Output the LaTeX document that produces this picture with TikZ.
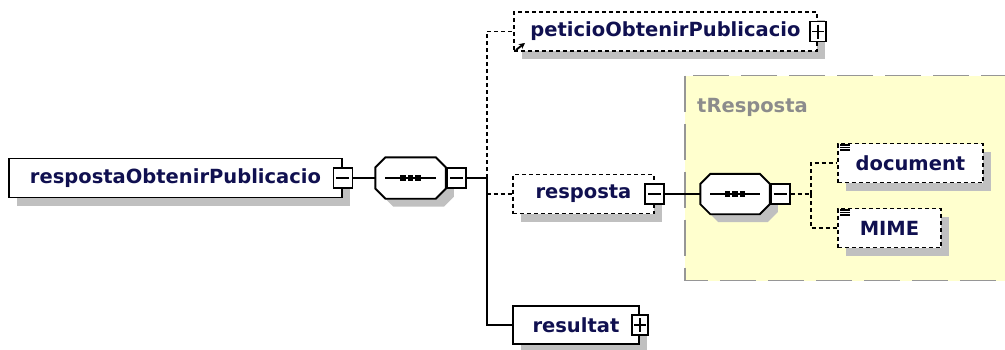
\documentclass[tikz,border=0pt]{standalone}
\usepackage{fontspec}
\setmainfont{DejaVu Sans}
\usetikzlibrary{shadows,arrows.meta}
\usetikzlibrary{positioning}
\definecolor{elemtext}{RGB}{16,16,80}
\definecolor{typefill}{RGB}{255,255,206}
\definecolor{typeline}{RGB}{150,150,150}
\definecolor{typetext}{RGB}{140,140,140}
\definecolor{shadowgray}{RGB}{192,192,192}
\tikzset{
    elem/.style={
           rectangle,
           draw=black, line width=1.9pt,
           fill=white,
           minimum height=39pt,
           inner sep=0pt,
           font=\bfseries\fontsize{19.5}{22}\selectfont,
           text=elemtext,
           drop shadow={shadow xshift=8pt,shadow yshift=-8pt,fill=shadowgray,opacity=1},
           },
}
\tikzset{
    optelem/.style={
           elem,
           dash pattern=on 4pt off 3pt,
           },
}
\tikzset{
    minusbox/.style={
           rectangle,
           draw=black, line width=1.9pt,
           fill=white,
           minimum width=19pt, minimum height=20pt,
           inner sep=0pt,
           path picture={\draw[line width=1.9pt] ([xshift=3pt]path picture bounding box.west) -- ([xshift=-3pt]path picture bounding box.east);},
           },
}
\tikzset{
    plusbox/.style={
           minusbox,
           minimum width=16pt,
           path picture={\draw[line width=1.9pt] ([xshift=2pt]path picture bounding box.west) -- ([xshift=-2pt]path picture bounding box.east);
                         \draw[line width=1.9pt] ([yshift=-3pt]path picture bounding box.north) -- ([yshift=3pt]path picture bounding box.south);},
           },
}
\tikzset{
    seq/.style={
           rectangle,
           inner sep=0pt,
           minimum width=70pt, minimum height=41pt,
           },
    seqshadow/.style={fill=shadowgray},
    seqline/.style={fill=white, draw=black, line width=1.9pt},
}
\tikzset{
    conn/.style={draw=black, line width=1.9pt},
    optconn/.style={conn, dash pattern=on 4pt off 3pt},
}

\begin{document}
\begin{tikzpicture}[x=1pt,y=-1pt]
\useasboundingbox (0,0) rectangle (1005,349);
% complex type area
\begin{scope}
\clip (0,0) rectangle (1005,349);
\draw[fill=typefill, draw=typeline, line width=1.8pt, dash pattern=on 36pt off 12pt] (685,75.5) rectangle (1030,280.5);
\end{scope}
\node[anchor=base west, font=\bfseries\fontsize{19.5}{22}\selectfont, text=typetext, inner sep=0pt] (tresp) at (697,112) {tResposta};
% root
\node[elem, minimum width=333pt] (root) at (175.5,178) {respostaObtenirPublicacio};
\node[minusbox] (rootx) at (root.east) {};
\node[seq, right=22pt of rootx] (seq1) {};
% children
\node[optelem, minimum width=303pt, anchor=west] (peticio) at (513,31.5) {peticioObtenirPublicacio};
\node[plusbox] (peticiox) at (peticio.east) {};
\node[optelem, minimum width=141pt, anchor=west] (resposta) at (512,194) {resposta};
\node[minusbox] (respostax) at (resposta.east) {};
\node[elem, minimum width=126pt, minimum height=38pt, anchor=west] (resultat) at (512,325) {resultat};
\node[plusbox] (resultatx) at (resultat.east) {};
% tResposta content
\node[seq, minimum width=69pt, minimum height=40pt, right=35pt of respostax] (seq2) {};
\node[optelem, minimum width=145pt, anchor=west] (document) at (837,163) {document};
\node[optelem, minimum width=103pt, anchor=west] (mime) at (837,228) {MIME};
% sequence octagons
\foreach \sq in {seq1,seq2} {
    \foreach \off/\sty in {8pt/seqshadow,0pt/seqline}
        \path[\sty] ([xshift=\off+10pt,yshift=-\off]\sq.north west) -- ([xshift=\off-10pt,yshift=-\off]\sq.north east)
            -- ([xshift=\off,yshift=-\off-10pt]\sq.north east) -- ([xshift=\off,yshift=-\off+10pt]\sq.south east)
            -- ([xshift=\off-10pt,yshift=-\off]\sq.south east) -- ([xshift=\off+10pt,yshift=-\off]\sq.south west)
            -- ([xshift=\off,yshift=-\off+10pt]\sq.south west) -- ([xshift=\off,yshift=-\off-10pt]\sq.north west) -- cycle;
    \draw[line width=1.9pt] ([xshift=10pt]\sq.west) -- ([xshift=-10pt]\sq.east);
    \foreach \dx in {-7.5,0,7.5}
        \fill[black] ([xshift=\dx pt]\sq.center) +(-2.7pt,-2.7pt) rectangle +(2.7pt,2.7pt);
}
\node[minusbox, right=0pt of seq1] (seq1x) {};
\coordinate[right=20pt of seq1x] (bus1);
\node[minusbox, right=0pt of seq2] (seq2x) {};
\coordinate[right=20pt of seq2x] (bus2);
% icons
\draw[line width=1.9pt, -{Stealth[length=6pt,width=6pt]}] ([xshift=3pt,yshift=2pt]peticio.south west) -- ++(9pt,7pt);
\foreach \nd in {document,mime}
    \foreach \dy in {2.5,5,7.5}
        \draw[line width=1.2pt] ([xshift=3pt,yshift=-\dy pt]\nd.north west) -- ++(10pt,0pt);
% connectors
\draw[conn] (rootx) -- (seq1);
\draw[conn] (seq1x) -- (bus1);
\draw[conn] (bus1) |- (resultat.west);
\draw[optconn] (bus1) |- (peticio.west);
\draw[optconn] (bus1 |- resposta.west) -- (resposta.west);
\draw[conn] (respostax) -- (seq2);
\draw[optconn] (seq2x) -- (bus2);
\draw[optconn] (bus2) |- (document.west);
\draw[optconn] (bus2) |- (mime.west);
\end{tikzpicture}
\end{document}
